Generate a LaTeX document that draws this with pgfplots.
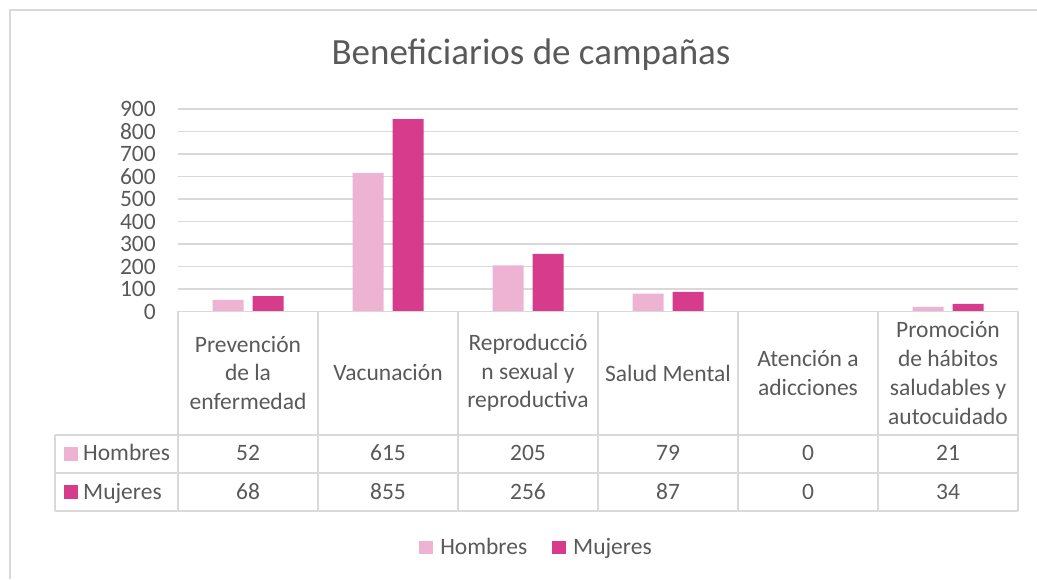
\documentclass[border=0pt]{standalone}
\usepackage{pgfplots}
\pgfplotsset{compat=1.18}
\usepackage{fontspec}
\setmainfont{Carlito}
\definecolor{hom}{HTML}{EEB3D3}
\definecolor{muj}{HTML}{D63B8C}
\definecolor{gridc}{HTML}{D9D9D9}
\definecolor{txt}{HTML}{595959}
\newcommand{\tfont}{\fontsize{23.5}{28.7}\selectfont}
\begin{document}
\begin{tikzpicture}[x=1pt,y=1pt]
\path[use as bounding box] (0,0) rectangle (1037,579);
\draw[gridc, line width=1.2pt] (10,0) -- (10,569) -- (1037,569);
\node[anchor=base, font=\fontsize{37}{44}\selectfont, text=txt, inner sep=0pt] at (531,514) {Beneficiarios de campañas};
\begin{axis}[
  at={(178pt,267.5pt)}, anchor=south west,
  scale only axis, width=840pt, height=202.5pt,
  xmin=-0.5, xmax=5.5, ymin=0, ymax=900,
  ytick={0,100,...,900}, xtick=\empty,
  ymajorgrids, grid style={gridc, line width=1.5pt},
  axis line style={draw=none}, major tick length=0pt,
  ybar, bar width=31pt,
  yticklabel style={font=\tfont, text=txt, inner sep=0pt, xshift=-22pt},
  /pgf/number format/assume math mode=true,
  legend style={at={(0.287,-1.1654)}, anchor=west, draw=none, fill=none,
    legend columns=2, font=\tfont, text=txt, inner sep=0pt,
    column sep=5pt, /tikz/every even column/.append style={column sep=23pt}},
]
\addplot[fill=hom, draw=none, bar shift=-20pt,
  legend image code/.code={\fill[hom] (0pt,-6.5pt) rectangle (14pt,6.5pt);}]
  coordinates {(0,52) (1,615) (2,205) (3,79) (4,0) (5,21)};
\addlegendentry{Hombres}
\addplot[fill=muj, draw=none, bar shift=20pt,
  legend image code/.code={\fill[muj] (0pt,-6.5pt) rectangle (14pt,6.5pt);}]
  coordinates {(0,68) (1,855) (2,256) (3,87) (4,0) (5,34)};
\addlegendentry{Mujeres}
\end{axis}
% data table
\begin{scope}[gridc, line width=1.5pt]
\draw (178,267.5) -- (1018,267.5);
\draw (55,144) -- (1018,144);
\draw (55,106) -- (1018,106);
\draw (55,68) -- (1018,68);
\foreach \i in {0,...,6} \draw (178+140*\i,267.5) -- (178+140*\i,68);
\draw (55,144) -- (55,68);
\end{scope}
\foreach \lab [count=\i from 0] in {Prevención\\de la\\enfermedad, Vacunación, Reproducció\\n sexual y\\reproductiva, Salud Mental, Atención a\\adicciones, Promoción\\de hábitos\\saludables y\\autocuidado}
  \node[align=center, font=\tfont, text=txt, inner sep=0pt] at (248+140*\i,206) {\lab};
\fill[hom] (64,118) rectangle (78,132);
\fill[muj] (64,80) rectangle (78,94);
\node[anchor=base west, font=\tfont, text=txt, inner sep=0pt] at (83,118) {Hombres};
\node[anchor=base west, font=\tfont, text=txt, inner sep=0pt] at (83,80) {Mujeres};
\foreach \v [count=\i from 0] in {52,615,205,79,0,21}
  \node[anchor=base, font=\tfont, text=txt, inner sep=0pt] at (248+140*\i,118) {\v};
\foreach \v [count=\i from 0] in {68,855,256,87,0,34}
  \node[anchor=base, font=\tfont, text=txt, inner sep=0pt] at (248+140*\i,80) {\v};
\end{tikzpicture}
\end{document}
